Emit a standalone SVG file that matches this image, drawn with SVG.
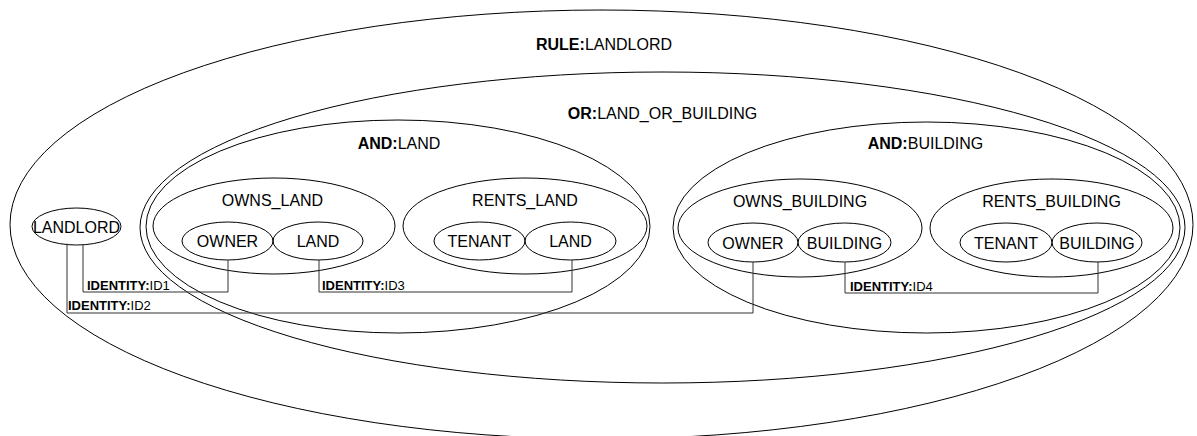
<svg xmlns="http://www.w3.org/2000/svg" width="1197" height="436" viewBox="0 0 1197 436">
  <style>
    .shape { fill: none; stroke: #000; stroke-width: 1; }
    .tick { stroke: #777; stroke-width: 1; }
    .lbl { font-family: "Liberation Sans", Arial, sans-serif; font-size: 16px; fill: #000; text-anchor: middle; }
    .kw { font-weight: bold; }
    .wire { fill: none; stroke: #333; stroke-width: 1; }
    .wlbl { font-family: "Liberation Sans", Arial, sans-serif; font-size: 13px; fill: #000; }
  </style>
  <rect width="1197" height="436" fill="#fff"/>

  <!-- rule container -->
  <g id="rule-landlord">
    <ellipse class="shape" cx="601.5" cy="224.5" rx="591.5" ry="214.5"/>
    <line class="tick" x1="601.5" y1="9" x2="601.5" y2="11"/>
    <text class="lbl" x="604" y="50"><tspan class="kw">RULE:</tspan>LANDLORD</text>
  </g>

  <g id="landlord">
    <ellipse class="shape" cx="76.5" cy="226.5" rx="44.5" ry="18.5"/>
    <text class="lbl" x="76.5" y="233">LANDLORD</text>
  </g>

  <!-- disjunction -->
  <g id="or-land-or-building">
    <ellipse class="shape" cx="662.5" cy="227.5" rx="522.5" ry="155.5"/>
    <line class="tick" x1="662.5" y1="71" x2="662.5" y2="73"/>
    <text class="lbl" x="662.5" y="119"><tspan class="kw">OR:</tspan>LAND_OR_BUILDING</text>
  </g>

  <!-- land branch -->
  <g id="and-land">
    <ellipse class="shape" cx="398" cy="226.5" rx="252" ry="106.5"/>
    <text class="lbl" x="399" y="149"><tspan class="kw">AND:</tspan>LAND</text>
  </g>

  <g id="owns-land">
    <ellipse class="shape" cx="274" cy="226" rx="121" ry="48"/>
    <line class="tick" x1="274" y1="177" x2="274" y2="179"/>
    <text class="lbl" x="272.5" y="205.5">OWNS_LAND</text>
  </g>
  <g id="owns-land-owner">
    <ellipse class="shape" cx="227.5" cy="241" rx="45.5" ry="19"/>
    <text class="lbl" x="227.5" y="247">OWNER</text>
  </g>
  <g id="owns-land-land">
    <ellipse class="shape" cx="318" cy="241" rx="45" ry="19"/>
    <text class="lbl" x="318" y="247">LAND</text>
  </g>

  <g id="rents-land">
    <ellipse class="shape" cx="525" cy="226" rx="122" ry="48"/>
    <line class="tick" x1="525" y1="177" x2="525" y2="179"/>
    <text class="lbl" x="525" y="205.5">RENTS_LAND</text>
  </g>
  <g id="rents-land-tenant">
    <ellipse class="shape" cx="479.5" cy="241" rx="45.5" ry="19"/>
    <text class="lbl" x="479.5" y="247">TENANT</text>
  </g>
  <g id="rents-land-land">
    <ellipse class="shape" cx="570.5" cy="241" rx="45.5" ry="19"/>
    <text class="lbl" x="570.5" y="247">LAND</text>
  </g>

  <!-- building branch -->
  <g id="and-building">
    <ellipse class="shape" cx="926.5" cy="227.5" rx="253.5" ry="105.5"/>
    <text class="lbl" x="925.5" y="149"><tspan class="kw">AND:</tspan>BUILDING</text>
  </g>

  <g id="owns-building">
    <ellipse class="shape" cx="800" cy="228" rx="122" ry="49"/>
    <line class="tick" x1="800" y1="178" x2="800" y2="180"/>
    <text class="lbl" x="800" y="206.5">OWNS_BUILDING</text>
  </g>
  <g id="owns-building-owner">
    <ellipse class="shape" cx="753" cy="242.5" rx="45" ry="19.5"/>
    <text class="lbl" x="753" y="248.5">OWNER</text>
  </g>
  <g id="owns-building-building">
    <ellipse class="shape" cx="844.5" cy="242.5" rx="46.5" ry="19.5"/>
    <text class="lbl" x="844.5" y="248.5">BUILDING</text>
  </g>

  <g id="rents-building">
    <ellipse class="shape" cx="1051.5" cy="228" rx="121.5" ry="49"/>
    <line class="tick" x1="1051.5" y1="178" x2="1051.5" y2="180"/>
    <text class="lbl" x="1051.5" y="206.5">RENTS_BUILDING</text>
  </g>
  <g id="rents-building-tenant">
    <ellipse class="shape" cx="1006" cy="242.5" rx="46" ry="19.5"/>
    <text class="lbl" x="1006" y="248.5">TENANT</text>
  </g>
  <g id="rents-building-building">
    <ellipse class="shape" cx="1097" cy="242.5" rx="45" ry="19.5"/>
    <text class="lbl" x="1097" y="248.5">BUILDING</text>
  </g>

  <!-- identity links -->
  <g id="connectors">
    <path class="wire" d="M83 244.5 V292 H228 V260"/>
    <text class="wlbl" x="87" y="290"><tspan class="kw">IDENTITY:</tspan>ID1</text>
    <path class="wire" d="M67 243.5 V313 H753 V262"/>
    <text class="wlbl" x="68" y="310"><tspan class="kw">IDENTITY:</tspan>ID2</text>
    <path class="wire" d="M319 260 V292 H572 V260"/>
    <text class="wlbl" x="322" y="290"><tspan class="kw">IDENTITY:</tspan>ID3</text>
    <path class="wire" d="M845 262 V293 H1098 V262"/>
    <text class="wlbl" x="850" y="291"><tspan class="kw">IDENTITY:</tspan>ID4</text>
  </g>
</svg>
